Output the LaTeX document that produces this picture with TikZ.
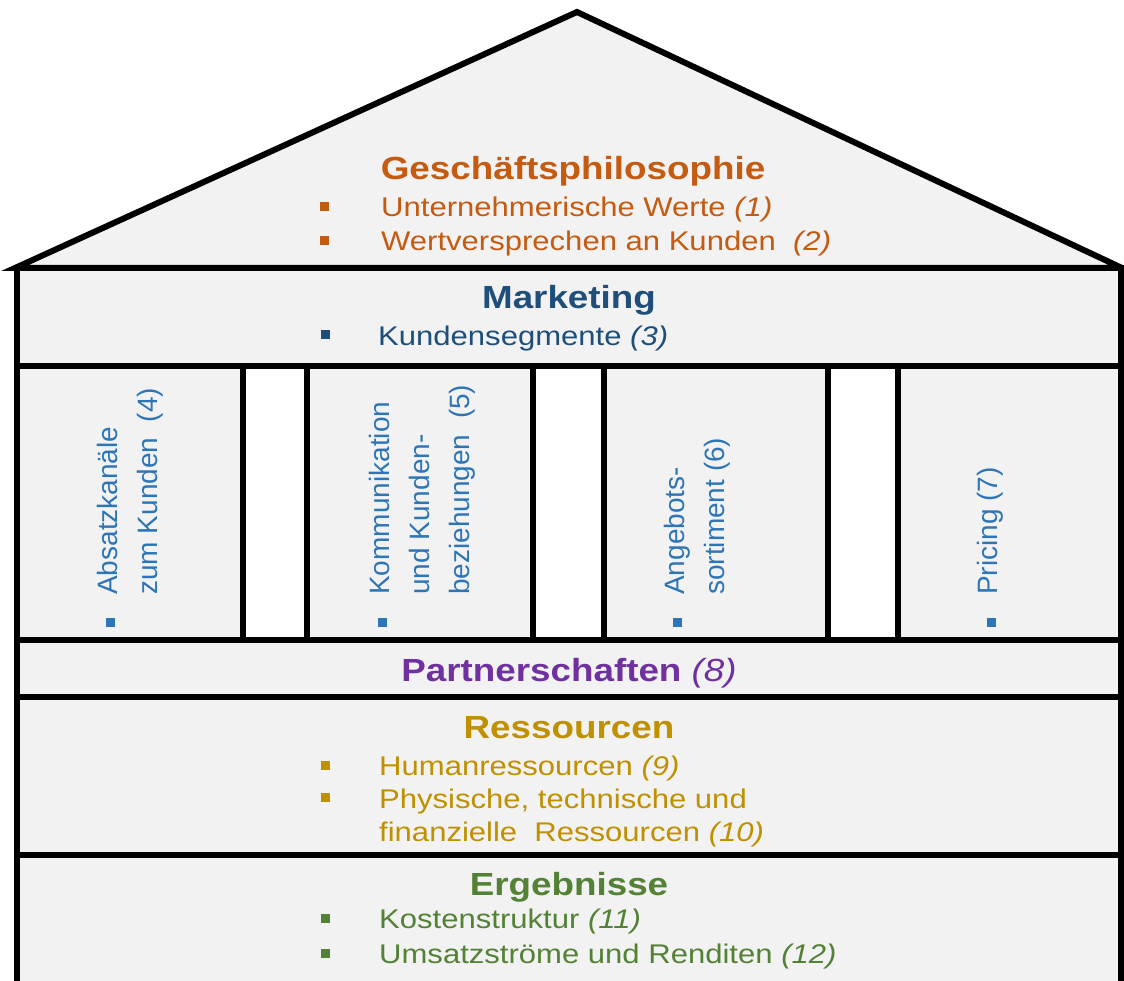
\documentclass[tikz,border=0pt]{standalone}
\usepackage{fontspec}
\setmainfont{Liberation Sans}[FakeStretch=1.15]
\newfontfamily\pillarfont{Liberation Sans}
\usetikzlibrary{positioning}

\definecolor{panel}{HTML}{F2F2F2}
\definecolor{philorange}{HTML}{C55A11}
\definecolor{markblue}{HTML}{1F4E79}
\definecolor{pillarblue}{HTML}{2E75B6}
\definecolor{partpurple}{HTML}{7030A0}
\definecolor{resgold}{HTML}{BF9000}
\definecolor{ergreen}{HTML}{538135}

\begin{document}
\begin{tikzpicture}
[x=1pt,y=-1pt,
wall/.style={draw=black,line width=6pt,fill=panel},
head/.style={font=\bfseries\fontsize{32}{36}\selectfont,anchor=base,inner sep=0pt},
item/.style={font=\fontsize{27}{33}\selectfont,anchor=base west,inner sep=0pt},
sq/.style={rectangle,inner sep=0pt,minimum size=9pt},
pillar/.style={rotate=90,anchor=north west,align=left,inner sep=0pt,
  font=\pillarfont\fontsize{28}{40}\selectfont,text=pillarblue}]
\fill[white] (0,0) rectangle (1124,981);
\useasboundingbox (0,0) rectangle (1124,981);

% roof and floors
\draw[wall] (15,268) -- (577,12) -- (1122,268) -- cycle;
\draw[wall] (17,268) rectangle (1121,366);
\draw[wall] (17,366) rectangle (243,640);
\draw[wall] (307,366) rectangle (533,640);
\draw[wall] (604,366) rectangle (828,640);
\draw[wall] (898,366) rectangle (1121,640);
\draw[wall] (17,640) rectangle (1121,697);
\draw[wall] (17,697) rectangle (1121,855);
\draw[wall] (17,855) rectangle (1121,1000);

% Geschaeftsphilosophie
\node[head,text=philorange] (phil) at (573,180) {Geschäftsphilosophie};
\node[sq,fill=philorange] (b1) at (324,207) {};
\node[item,text=philorange] (werte) at (381,217) {Unternehmerische Werte \textit{(1)}};
\node[sq,fill=philorange] (b2) at (324,241) {};
\node[item,text=philorange] (wertv) at (381,251) {Wertversprechen an Kunden\ \ \textit{(2)}};

% Marketing
\node[head,text=markblue] (mkt) at (569,309) {Marketing};
\node[sq,fill=markblue] (b3) at (325,335) {};
\node[item,text=markblue] (segm) at (378,345) {Kundensegmente \textit{(3)}};

% pillars
\node[sq,fill=pillarblue] (b4) at (110,622) {};
\node[pillar] (absatz) at (97,595) {Absatzkanäle\\zum Kunden\ \ (4)};
\node[sq,fill=pillarblue] (b5) at (382,622) {};
\node[pillar] (komm) at (369,595) {Kommunikation\\und Kunden-\\beziehungen\ \ (5)};
\node[sq,fill=pillarblue] (b6) at (677,622) {};
\node[pillar] (angebot) at (664,595) {Angebots-\\sortiment (6)};
\node[sq,fill=pillarblue] (b7) at (991,622) {};
\node[pillar] (pricing) at (977,595) {Pricing (7)};

% Partnerschaften
\node[head,text=partpurple] (partner) at (569,681) {Partnerschaften {\mdseries\itshape(8)}};

% Ressourcen
\node[head,text=resgold] (res) at (569,738) {Ressourcen};
\node[sq,fill=resgold] (b9) at (325,765) {};
\node[item,text=resgold] (human) at (379,775) {Humanressourcen \textit{(9)}};
\node[sq,fill=resgold] (b10) at (325,797) {};
\node[item,text=resgold] (phys) at (379,808) {Physische, technische und};
\node[item,text=resgold] (fin) at (379,841) {finanzielle\ \ Ressourcen \textit{(10)}};

% Ergebnisse
\node[head,text=ergreen] (erg) at (569,895) {Ergebnisse};
\node[sq,fill=ergreen] (b11) at (325,918) {};
\node[item,text=ergreen] (kosten) at (379,928) {Kostenstruktur \textit{(11)}};
\node[sq,fill=ergreen] (b12) at (325,953) {};
\node[item,text=ergreen] (umsatz) at (379,963) {Umsatzströme und Renditen \textit{(12)}};
\end{tikzpicture}
\end{document}
